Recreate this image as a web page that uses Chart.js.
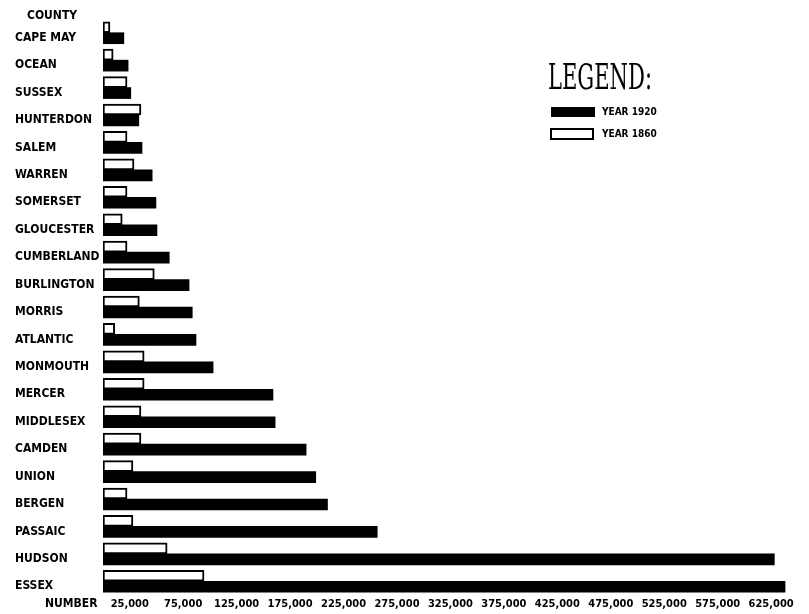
<!DOCTYPE html>
<html>
<head>
<meta charset="utf-8">
<script src="https://cdn.jsdelivr.net/npm/chart.js@4/dist/chart.umd.min.js"></script>
<style>
  html, body { margin: 0; padding: 0; background: #fff; }
  #wrap { width: 809px; height: 614px; }
</style>
</head>
<body>
<div id="wrap"><canvas id="chart" width="809" height="614"></canvas></div>
<script>
// county populations
const counties = ["CAPE MAY", "OCEAN", "SUSSEX", "HUNTERDON", "SALEM", "WARREN", "SOMERSET",
  "GLOUCESTER", "CUMBERLAND", "BURLINGTON", "MORRIS", "ATLANTIC", "MONMOUTH", "MERCER",
  "MIDDLESEX", "CAMDEN", "UNION", "BERGEN", "PASSAIC", "HUDSON", "ESSEX"];
const year1860 = [6500, 9500, 22500, 35500, 22500, 29000, 22500, 18000, 22500, 48000, 34000,
  11000, 38500, 38500, 35500, 35500, 28000, 22500, 28000, 60000, 94500];
const year1920 = [19500, 23500, 26000, 33500, 36500, 46000, 49500, 50500, 62000, 80500, 83500,
  87000, 103000, 159000, 161000, 190000, 199000, 210000, 256500, 628000, 638000];
const tickValues = [25000, 75000, 125000, 175000, 225000, 275000, 325000, 375000, 425000,
  475000, 525000, 575000, 625000];

const handFont = "'DejaVu Sans Condensed', 'DejaVu Sans', sans-serif";

// extra texts + legend box
const extras = {
  id: "extras",
  afterDraw(chart) {
    const ctx = chart.ctx;
    ctx.save();
    ctx.fillStyle = "#000";
    ctx.textBaseline = "middle";
    ctx.textAlign = "left";
    ctx.font = "bold 12px " + handFont;
    ctx.fillText("COUNTY", 27, 16);
    ctx.fillText("NUMBER", 45, 604);

    // legend title, squeezed to match the lettering
    ctx.font = "36px 'DejaVu Serif Condensed', 'DejaVu Serif', serif";
    const w = ctx.measureText("LEGEND:").width;
    ctx.save();
    ctx.translate(548, 80);
    ctx.scale(104 / w, 1);
    ctx.fillText("LEGEND:", 0, 0);
    ctx.restore();

    const items = [chart.data.datasets[1], chart.data.datasets[0]];
    ctx.font = "bold 10px " + handFont;
    items.forEach((ds, i) => {
      const y = 107 + i * 22;
      ctx.fillStyle = ds.backgroundColor;
      ctx.fillRect(551, y, 44, 10);
      if (ds.borderWidth) {
        ctx.strokeStyle = "#000";
        ctx.lineWidth = 2;
        ctx.strokeRect(551, y, 42, 10);
      }
      ctx.fillStyle = "#000";
      ctx.fillText(ds.label, 602, y + 5);
    });
    ctx.restore();
  }
};

new Chart(document.getElementById("chart"), {
  type: "bar",
  data: {
    labels: counties,
    datasets: [
      {
        label: "YEAR 1860",
        data: year1860,
        backgroundColor: "#fff",
        borderColor: "#000",
        borderWidth: 2,
        borderSkipped: false,
        barThickness: 11
      },
      {
        label: "YEAR 1920",
        data: year1920,
        backgroundColor: "#000",
        borderWidth: 0,
        barThickness: 11
      }
    ]
  },
  options: {
    indexAxis: "y",
    responsive: false,
    animation: false,
    devicePixelRatio: 1,
    layout: { padding: { left: 15, right: 9, top: 19, bottom: 0 } },
    plugins: {
      legend: { display: false },
      tooltip: { enabled: false }
    },
    scales: {
      y: {
        grid: { display: false, drawTicks: false },
        border: { display: false },
        afterFit(scale) { scale.width = 88; },
        ticks: {
          color: "#000",
          autoSkip: false,
          crossAlign: "far",
          labelOffset: 5,
          font: { family: handFont, size: 12, weight: "bold" }
        }
      },
      x: {
        min: 0,
        max: 652000,
        grid: { display: false, drawTicks: false },
        border: { display: false },
        afterFit(scale) { scale.height = 19; },
        afterBuildTicks(scale) {
          scale.ticks = tickValues.map(v => ({ value: v }));
        },
        ticks: {
          color: "#000",
          autoSkip: false,
          maxRotation: 0,
          padding: 3,
          font: { family: handFont, size: 11, weight: "bold" },
          callback: v => v.toLocaleString("en-US")
        }
      }
    }
  },
  plugins: [extras]
});
</script>
</body>
</html>
